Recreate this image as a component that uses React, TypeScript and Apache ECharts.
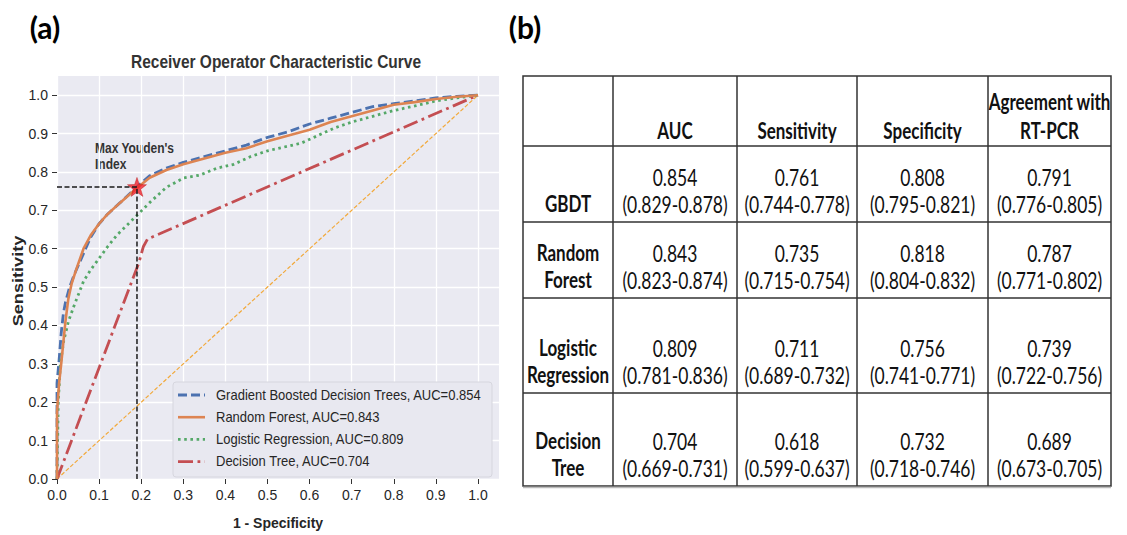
import React, { useEffect, useRef } from "react";
import * as echarts from "echarts";

// ---------- ROC data ----------
const tickValues = [0, 0.1, 0.2, 0.3, 0.4, 0.5, 0.6, 0.7, 0.8, 0.9, 1.0];

const gbdtFpr = [0, 0, 0.005, 0.01, 0.015, 0.02, 0.03, 0.04, 0.06, 0.08, 0.1, 0.12, 0.15, 0.19, 0.22, 0.26, 0.3, 0.35, 0.4, 0.45, 0.5, 0.55, 0.6, 0.65, 0.7, 0.75, 0.8, 0.85, 0.9, 0.95, 1.0];
const gbdtTpr = [0, 0.25, 0.31, 0.38, 0.43, 0.46, 0.5, 0.53, 0.58, 0.63, 0.665, 0.69, 0.72, 0.761, 0.79, 0.81, 0.825, 0.84, 0.855, 0.87, 0.89, 0.905, 0.925, 0.94, 0.955, 0.97, 0.978, 0.985, 0.993, 0.997, 1.0];

const rfFpr = [0, 0, 0.005, 0.01, 0.02, 0.027, 0.035, 0.047, 0.063, 0.08, 0.1, 0.12, 0.15, 0.19, 0.22, 0.26, 0.3, 0.35, 0.4, 0.45, 0.5, 0.55, 0.6, 0.65, 0.7, 0.75, 0.8, 0.85, 0.9, 0.95, 1.0];
const rfTpr = [0, 0.175, 0.25, 0.3, 0.41, 0.47, 0.51, 0.55, 0.6, 0.635, 0.665, 0.69, 0.72, 0.758, 0.785, 0.805, 0.82, 0.835, 0.85, 0.862, 0.88, 0.895, 0.91, 0.93, 0.945, 0.96, 0.975, 0.982, 0.99, 0.996, 1.0];

const lrFpr = [0, 0.003, 0.008, 0.016, 0.027, 0.04, 0.063, 0.08, 0.1, 0.12, 0.142, 0.165, 0.19, 0.22, 0.24, 0.26, 0.28, 0.3, 0.34, 0.38, 0.42, 0.46, 0.5, 0.54, 0.58, 0.62, 0.66, 0.7, 0.75, 0.8, 0.85, 0.9, 0.95, 1.0];
const lrTpr = [0, 0.2, 0.3, 0.36, 0.41, 0.45, 0.515, 0.545, 0.575, 0.605, 0.635, 0.66, 0.687, 0.72, 0.74, 0.76, 0.772, 0.784, 0.792, 0.81, 0.82, 0.84, 0.855, 0.865, 0.875, 0.895, 0.915, 0.93, 0.945, 0.96, 0.972, 0.985, 0.993, 1.0];

const dtFpr = [0, 0.195, 0.205, 0.215, 1.0];
const dtTpr = [0, 0.565, 0.605, 0.625, 1.0];

const chanceFpr = [0, 1];
const chanceTpr = [0, 1];

const youdenFpr = 0.19;
const youdenTpr = 0.761;

const seriesNames = [
  "Gradient Boosted Decision Trees, AUC=0.854",
  "Random Forest, AUC=0.843",
  "Logistic Regression, AUC=0.809",
  "Decision Tree, AUC=0.704",
];

// ---------- Table data ----------
const tableHeaders = [["AUC"], ["Sensitivity"], ["Specificity"], ["Agreement with", "RT-PCR"]];
const modelLabels = [["GBDT"], ["Random", "Forest"], ["Logistic", "Regression"], ["Decision", "Tree"]];
const aucValues = ["0.854", "0.843", "0.809", "0.704"];
const aucCI = ["(0.829-0.878)", "(0.823-0.874)", "(0.781-0.836)", "(0.669-0.731)"];
const sensValues = ["0.761", "0.735", "0.711", "0.618"];
const sensCI = ["(0.744-0.778)", "(0.715-0.754)", "(0.689-0.732)", "(0.599-0.637)"];
const specValues = ["0.808", "0.818", "0.756", "0.732"];
const specCI = ["(0.795-0.821)", "(0.804-0.832)", "(0.741-0.771)", "(0.718-0.746)"];
const agreeValues = ["0.791", "0.787", "0.739", "0.689"];
const agreeCI = ["(0.776-0.805)", "(0.771-0.802)", "(0.722-0.756)", "(0.673-0.705)"];

// ---------- styles / layout ----------
const COLORS = ["#4c72b0", "#dd8452", "#55a868", "#c44e52"];
const DASHES: any[] = [[9, 4], "solid", [2.6, 3.6], [15, 4.5, 2.8, 4.5]];
const WIDTHS = [2.8, 2.6, 2.8, 2.8];
const TXT = "#262626";
const SANS = "'Liberation Sans', Arial, sans-serif";
const TFONT = "Lato, 'Open Sans', sans-serif";

const zip = (xs: number[], ys: number[]) => xs.map((x, i) => [x, ys[i]]);

const STAR = "path://M0,-10L2.35,-3.24L9.51,-3.09L3.8,1.24L5.88,8.09L0,4L-5.88,8.09L-3.8,1.24L-9.51,-3.09L-2.35,-3.24Z";

const centerText = (x: number, y: number, text: string, font: string, fill: string, extra: any = {}) => ({
  type: "text",
  x,
  y,
  ...extra,
  style: {
    text,
    fill,
    font,
    textAlign: "center",
    textVerticalAlign: "middle",
    align: "center",
    verticalAlign: "middle",
  },
});

function buildTable(): any[] {
  const els: any[] = [];
  const L = 523, R = 1111, T = 76, B = 486;
  const colX = [613, 737, 857, 988];
  const rowY = [146, 222, 298, 393];
  const lineStyle = { stroke: "#333", lineWidth: 1.5 };
  els.push({ type: "rect", shape: { x: L, y: T, width: R - L, height: B - T }, style: { fill: "none", stroke: "#333", lineWidth: 1.5 } });
  els.push({ type: "line", shape: { x1: L, y1: B + 1.5, x2: R, y2: B + 1.5 }, style: { stroke: "#bbb", lineWidth: 1.5 } });
  colX.forEach((x) => els.push({ type: "line", shape: { x1: x, y1: T, x2: x, y2: B }, style: lineStyle }));
  rowY.forEach((y) => els.push({ type: "line", shape: { x1: L, y1: y, x2: R, y2: y }, style: lineStyle }));
  const edges = [L, ...colX, R];
  const centers = edges.slice(0, -1).map((x, i) => (x + edges[i + 1]) / 2);
  const bottoms = [...rowY, B];
  const txt = (x: number, y: number, s: string, bold: boolean) =>
    centerText(x, y, s, `${bold ? "bold 17px" : "17.5px"} ${TFONT}`, "#111", { scaleY: 1.3 });
  tableHeaders.forEach((h, i) => {
    const yb = bottoms[0] - 15;
    h.forEach((line, k) => els.push(txt(centers[i + 1], yb - (h.length - 1 - k) * 29, line, true)));
  });
  const cols = [
    [aucValues, aucCI],
    [sensValues, sensCI],
    [specValues, specCI],
    [agreeValues, agreeCI],
  ];
  modelLabels.forEach((lab, r) => {
    const yb = bottoms[r + 1] - 18;
    lab.forEach((line, k) => els.push(txt(centers[0], yb - (lab.length - 1 - k) * 27, line, true)));
    cols.forEach((c, ci) => {
      els.push(txt(centers[ci + 1], yb - 27, c[0][r], false));
      els.push(txt(centers[ci + 1], yb, c[1][r], false));
    });
  });
  return els;
}

function buildLegend(): any[] {
  const els: any[] = [];
  els.push({
    type: "rect",
    shape: { x: 173, y: 382, width: 319, height: 95, r: 3 },
    style: { fill: "#e8e8f0", stroke: "#d6d6de", lineWidth: 1 },
    z: 10,
  });
  seriesNames.forEach((name, i) => {
    const y = 395 + i * 22.2;
    els.push({
      type: "line",
      shape: { x1: 178, y1: y, x2: 205, y2: y },
      style: { stroke: COLORS[i], lineWidth: WIDTHS[i], lineDash: DASHES[i] === "solid" ? null : DASHES[i] },
      z: 11,
    });
    els.push({
      type: "text",
      x: 216,
      y,
      scaleY: 1.1,
      style: { text: name, fill: TXT, font: `13px ${SANS}`, textVerticalAlign: "middle", verticalAlign: "middle" },
      z: 11,
    });
  });
  return els;
}

export default function App() {
  const ref = useRef<HTMLDivElement>(null);
  useEffect(() => {
    if (!ref.current) return;
    const chart = echarts.init(ref.current, null, { renderer: "svg" });
    const curves = [zip(gbdtFpr, gbdtTpr), zip(rfFpr, rfTpr), zip(lrFpr, lrTpr), zip(dtFpr, dtTpr)];
    const axisCommon = {
      type: "value",
      min: 0,
      max: 1.05,
      interval: 0.1,
      axisLine: { show: false },
      axisTick: { show: true, length: 5, customValues: tickValues, lineStyle: { color: "#333", width: 1 } },
      axisLabel: {
        customValues: tickValues,
        formatter: (v: number) => v.toFixed(1),
        color: TXT,
        fontFamily: SANS,
        fontSize: 14,
      },
      splitLine: { show: true, lineStyle: { color: "#ffffff", width: 1.3 } },
      nameLocation: "middle",
      nameTextStyle: { color: TXT, fontFamily: SANS, fontSize: 14, fontWeight: "bold" },
    };
    const option: any = {
      animation: false,
      backgroundColor: "#ffffff",
      grid: { left: 57, top: 76, width: 442, height: 409, show: true, backgroundColor: "#eaeaf2", borderWidth: 0 },
      xAxis: { ...axisCommon, name: "1 - Specificity", nameGap: 37, axisLabel: { ...axisCommon.axisLabel, margin: 9 } },
      yAxis: { ...axisCommon, axisLabel: { ...axisCommon.axisLabel, margin: 9 } },
      series: [
        ...curves.map((d, i) => ({
          name: seriesNames[i],
          type: "line",
          data: d,
          symbol: "none",
          z: 3 + (i === 1 ? 1 : 0),
          lineStyle: { color: COLORS[i], width: WIDTHS[i], type: DASHES[i], cap: "butt" },
        })),
        {
          name: "chance",
          type: "line",
          data: zip(chanceFpr, chanceTpr),
          symbol: "none",
          z: 2,
          lineStyle: { color: "#f2a93b", width: 1.2, type: [4, 2] },
        },
        {
          name: "star",
          type: "scatter",
          data: [[youdenFpr, youdenTpr]],
          symbol: STAR,
          symbolSize: 19,
          z: 6,
          itemStyle: { color: "#f0202a", borderColor: "#b01010", borderWidth: 0.5 },
        },
        {
          name: "youdenH",
          type: "line",
          data: [[0, youdenTpr], [youdenFpr, youdenTpr]],
          symbol: "none",
          z: 7,
          lineStyle: { color: "#1a1a1a", width: 1.5, type: [5, 2.5] },
        },
        {
          name: "youdenV",
          type: "line",
          data: [[youdenFpr, 0], [youdenFpr, youdenTpr]],
          symbol: "none",
          z: 7,
          lineStyle: { color: "#1a1a1a", width: 1.5, type: [5, 2.5] },
        },
      ],
      graphic: [
        centerText(45, 27, "(a)", `bold 30px ${TFONT}`, "#000"),
        centerText(525, 27, "(b)", `bold 30px ${TFONT}`, "#000"),
        centerText(276, 62, "Receiver Operator Characteristic Curve", `bold 15.5px ${SANS}`, "#333", { scaleY: 1.15 }),
        centerText(18, 281, "Sensitivity", `bold 14.5px ${SANS}`, "#262626", { rotation: Math.PI / 2, scaleX: 1.25 }),
        { type: "text", x: 95, y: 148, scaleY: 1.15, style: { text: "Max Youden's", font: `bold 12px ${SANS}`, fill: "#333", textVerticalAlign: "middle", verticalAlign: "middle" } },
        { type: "text", x: 95, y: 164, scaleY: 1.15, style: { text: "Index", font: `bold 12px ${SANS}`, fill: "#333", textVerticalAlign: "middle", verticalAlign: "middle" } },
        ...buildLegend(),
        ...buildTable(),
      ],
    };
    chart.setOption(option);
    return () => chart.dispose();
  }, []);
  return <div ref={ref} style={{ position: "fixed", left: 0, top: 0, width: 1127, height: 535 }} />;
}
